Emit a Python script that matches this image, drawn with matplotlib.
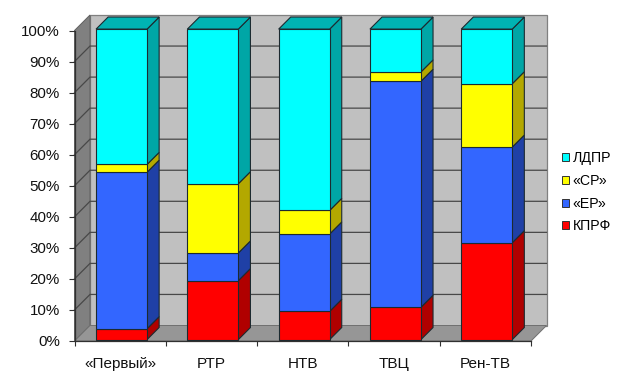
import matplotlib
matplotlib.use("Agg")
import matplotlib.pyplot as plt
from matplotlib.patches import Polygon, Patch

plt.rcParams['font.family'] = ['Liberation Sans', 'DejaVu Sans']

channels = ['«Первый»', 'РТР', 'НТВ', 'ТВЦ', 'Рен-ТВ']
kprf = [3.5, 19.0, 9.1, 10.4, 31.2]
er = [50.4, 8.9, 24.9, 72.8, 30.8]
sr = [2.5, 22.3, 7.6, 3.0, 20.4]
ldpr = [43.6, 49.8, 58.4, 13.8, 17.6]
series_names = ['КПРФ', '«ЕР»', '«СР»', 'ЛДПР']
series_values = [kprf, er, sr, ldpr]
front_colors = ['#FF0000', '#3366FF', '#FFFF00', '#00FFFF']
side_colors = ['#B00000', '#1F40A6', '#B3A800', '#00A6A6']
top_color = '#00B3B3'
edge = '#1c2a30'

W, H = 625, 382
fig = plt.figure(figsize=(W / 100, H / 100), dpi=100, facecolor='white')
L, R, B, T = 74.5, 531.0, 341.0, 30.5
ax = fig.add_axes([L / W, 1 - B / H, (R - L) / W, (B - T) / H])
ax.set_xlim(0, len(channels))
ax.set_ylim(0, 100)
ax.patch.set_visible(False)

px_x = (R - L) / len(channels)
px_y = (B - T) / 100
DX = 15.5 / px_x
DY = 15.5 / px_y
n = len(channels)


def poly(pts, fc, ec='none', lw=0.0, z=1):
    ax.add_patch(Polygon(pts, closed=True, facecolor=fc, edgecolor=ec,
                         linewidth=lw, zorder=z, clip_on=False, joinstyle='miter'))


# walls
poly([(DX, DY), (n + DX, DY), (n + DX, 100 + DY), (DX, 100 + DY)], '#C0C0C0', '#808080', 0.9, 1)
poly([(0, 0), (DX, DY), (DX, 100 + DY), (0, 100)], '#808080', '#606060', 0.7, 1.2)
poly([(0, 0), (n, 0), (n + DX, DY), (DX, DY)], '#969696', '#707070', 0.7, 1.2)

# gridlines
for v in range(10, 100, 10):
    ax.plot([0, DX, n + DX], [v, v + DY, v + DY], color='#484848', lw=0.9, zorder=1.5, clip_on=False,
            solid_joinstyle='miter')

# stacked bars
BAR = 51.0 / px_x
d0 = 0.09
d1 = 0.87
for i in range(n):
    x0 = i + 0.5 - BAR / 2
    x1 = x0 + BAR
    ox, oy = DX * d0, DY * d0
    sx, sy = DX * (d1 - d0), DY * (d1 - d0)
    base = 0.0
    for vals, fc, sc in zip(series_values, front_colors, side_colors):
        top = base + vals[i]
        poly([(x1 + ox, base + oy), (x1 + ox + sx, base + oy + sy),
              (x1 + ox + sx, top + oy + sy), (x1 + ox, top + oy)], sc, edge, 0.8, 3)
        poly([(x0 + ox, base + oy), (x1 + ox, base + oy),
              (x1 + ox, top + oy), (x0 + ox, top + oy)], fc, edge, 0.8, 4)
        base = top
    poly([(x0 + ox, base + oy), (x1 + ox, base + oy),
          (x1 + ox + sx, base + oy + sy), (x0 + ox + sx, base + oy + sy)], top_color, edge, 0.8, 3)

# axes
for s in ('top', 'right'):
    ax.spines[s].set_visible(False)
for s in ('left', 'bottom'):
    ax.spines[s].set_color('#303030')
    ax.spines[s].set_linewidth(0.9)
    ax.spines[s].set_zorder(5)
ax.set_yticks(range(0, 101, 10))
ax.set_yticklabels([f'{v}%' for v in range(0, 101, 10)], fontsize=10.9, color='#111111')
ax.set_xticks(range(n + 1))
ax.set_xticklabels([])
ax.set_xticks([i + 0.5 for i in range(n)], minor=True)
ax.set_xticklabels(channels, minor=True, fontsize=11, color='#111111')
ax.tick_params(axis='x', which='major', length=3.8, width=0.8, color='#303030')
ax.tick_params(axis='x', which='minor', length=0, pad=11.5)
ax.tick_params(axis='y', length=4, width=0.8, color='#303030', pad=6.6)

# legend
handles = [Patch(facecolor=c, edgecolor='#333333', linewidth=0.7, label=nm)
           for nm, c in zip(series_names[::-1], front_colors[::-1])]
fig.legend(handles=handles, loc='upper left', bbox_to_anchor=(561.5 / W, 1 - 151 / H),
           bbox_transform=fig.transFigure, frameon=False, fontsize=10.2,
           handlelength=0.5, handleheight=0.5, handletextpad=0.3,
           labelspacing=0.62, borderpad=0, borderaxespad=0)

fig.savefig('out.png', dpi=100, facecolor='white')
